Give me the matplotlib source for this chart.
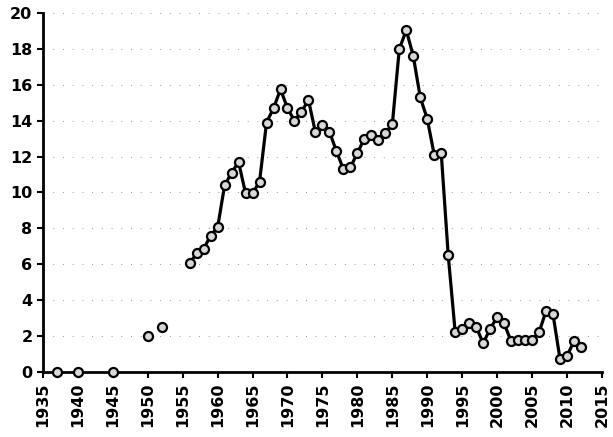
import numpy as np
import matplotlib
matplotlib.use("Agg")
import matplotlib.pyplot as plt

# early, isolated observations (not joined)
early_years = [1937, 1940, 1945, 1950, 1952]
early_vals = [0, 0, 0, 2.0, 2.5]

# continuous yearly series from 1956
years = list(range(1956, 2013))
vals = [
    6.05, 6.6, 6.85, 7.6, 8.05,            # 1956-1960
    10.4, 11.1, 11.7, 9.95, 9.95,          # 1961-1965
    10.6, 13.9, 14.7, 15.75, 14.7,         # 1966-1970
    14.0, 14.5, 15.15, 13.35, 13.75,       # 1971-1975
    13.4, 12.3, 11.3, 11.4, 12.2,          # 1976-1980
    13.0, 13.2, 12.9, 13.3, 13.8,          # 1981-1985
    18.0, 19.05, 17.6, 15.3, 14.1,         # 1986-1990
    12.1, 12.2, 6.5, 2.2, 2.4,             # 1991-1995
    2.7, 2.5, 1.6, 2.4, 3.05,              # 1996-2000
    2.7, 1.7, 1.75, 1.75, 1.75,            # 2001-2005
    2.2, 3.4, 3.2, 0.7, 0.9,               # 2006-2010
    1.7, 1.4,                              # 2011-2012
]

xticks = list(range(1935, 2016, 5))
yticks = list(range(0, 21, 2))

fig = plt.figure(figsize=(6.13, 4.37), dpi=100)
ax = fig.add_axes([0.070, 0.149, 0.912, 0.821])

mk = dict(marker="o", markersize=6.5, markerfacecolor="#d8d8d8",
          markeredgecolor="black", markeredgewidth=1.6)

ax.plot(years, vals, color="black", linewidth=2.3, zorder=3, **mk)
ax.plot(early_years, early_vals, linestyle="none", zorder=3, clip_on=False, **mk)

ax.set_xlim(1935, 2015)
ax.set_ylim(0, 20)
ax.set_xticks(xticks)
ax.set_yticks(yticks)
ax.set_xticklabels([str(t) for t in xticks], rotation=90)

for s in ["top", "right"]:
    ax.spines[s].set_visible(False)
for s in ["left", "bottom"]:
    ax.spines[s].set_linewidth(2)

ax.tick_params(axis="both", direction="out", length=4, width=1.5,
               labelsize=11.5)
for lab in ax.get_xticklabels() + ax.get_yticklabels():
    lab.set_fontweight("bold")

ax.yaxis.grid(True, color="#999999", linestyle=(0, (1, 9)), linewidth=0.7)
ax.set_axisbelow(True)

fig.savefig("out.png", dpi=100)
